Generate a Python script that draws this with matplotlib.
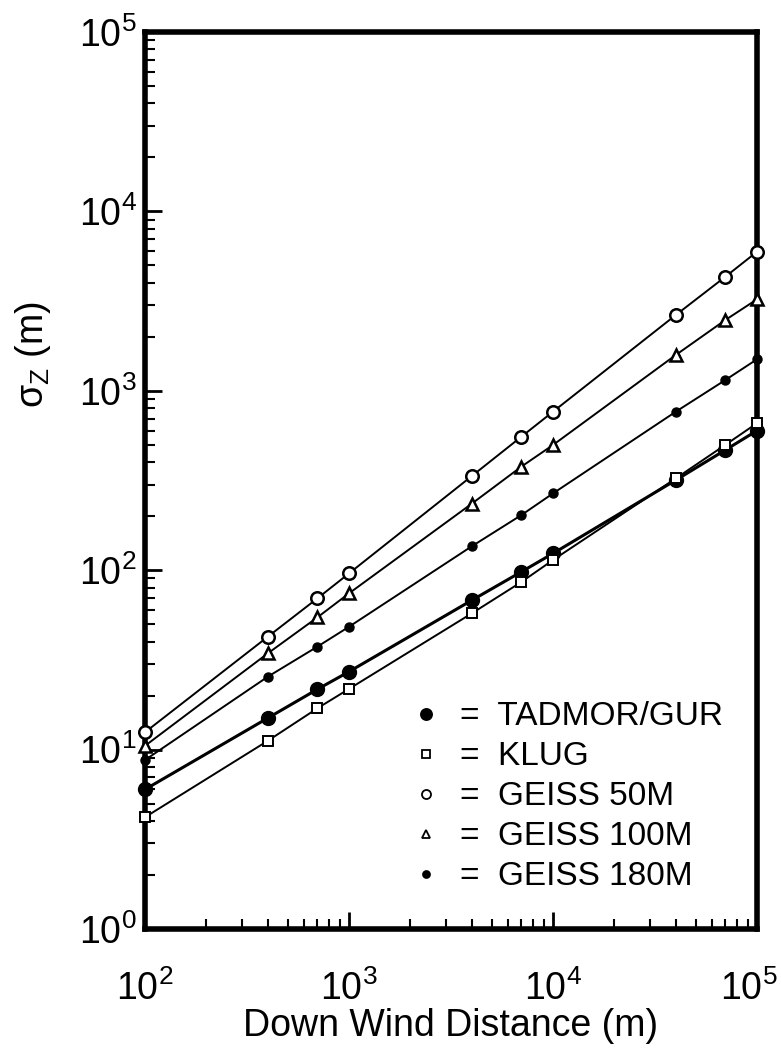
# Lateral dispersion sigma_z vs down-wind distance (log-log)
import matplotlib
matplotlib.use("Agg")
import matplotlib.pyplot as plt
import matplotlib.transforms as mtransforms
from matplotlib.lines import Line2D
from matplotlib.ticker import LogLocator, NullFormatter

plt.rcParams["font.family"] = ["Liberation Sans", "DejaVu Sans"]
plt.rcParams["mathtext.fontset"] = "custom"
plt.rcParams["mathtext.rm"] = "Liberation Sans"
plt.rcParams["mathtext.it"] = "Liberation Sans"
plt.rcParams["mathtext.bf"] = "Liberation Sans:bold"

# ---- data ----
distance = [100, 400, 700, 1000, 4000, 7000, 10000, 40000, 70000, 100000]
tadmor_gur = [6.0, 15.0, 21.7, 27.2, 68, 98, 124, 318, 468, 600]
klug = [4.2, 11.2, 17.0, 21.8, 57.5, 86, 114, 325, 500, 660]
geiss_50 = [12.5, 42.6, 69.7, 96, 335, 555, 765, 2646, 4325, 5960]
geiss_100 = [10.5, 34.4, 54.6, 74.3, 235, 378, 499, 1584, 2482, 3236]
geiss_180 = [8.75, 25.5, 37.5, 48.4, 136, 203, 268, 765, 1149, 1499]

labels = ["TADMOR/GUR", "KLUG", "GEISS 50M", "GEISS 100M", "GEISS 180M"]

fig = plt.figure(figsize=(7.81, 10.52), dpi=100)
ax = fig.add_axes([0.1857, 0.1169, 0.7836, 0.8527])

# ---- series ----
styles = [
    dict(marker="o", ms=10, mfc="black", mec="black", lw=2.2),
    dict(marker="s", ms=7, mfc="white", mec="black", mew=1.4, lw=1.4),
    dict(marker="o", ms=9, mfc="white", mec="black", mew=1.8, lw=1.4),
    dict(marker="^", ms=8, mfc="white", mec="black", mew=1.8, lw=1.4),
    dict(marker="o", ms=6.5, mfc="black", mec="black", lw=1.4),
]
series = [tadmor_gur, klug, geiss_50, geiss_100, geiss_180]
for vals, st in zip(series, styles):
    ax.plot(distance, vals, color="black", clip_on=False, zorder=3, **st)

ax.set_xscale("log")
ax.set_yscale("log")
ax.set_xlim(100, 100000)
ax.set_ylim(1, 100000)

# ---- axis frame and ticks ----
for side in ("left", "right", "top", "bottom"):
    ax.spines[side].set_linewidth(4)

ax.xaxis.set_major_locator(LogLocator(base=10, numticks=10))
ax.yaxis.set_major_locator(LogLocator(base=10, numticks=10))
ax.xaxis.set_minor_locator(LogLocator(base=10, subs=range(2, 10), numticks=20))
ax.yaxis.set_minor_locator(LogLocator(base=10, subs=range(2, 10), numticks=20))
ax.xaxis.set_minor_formatter(NullFormatter())
ax.yaxis.set_minor_formatter(NullFormatter())

ax.tick_params(axis="both", which="major", direction="in", length=12, width=2,
               labelsize=27, top=False, right=False)
ax.tick_params(axis="both", which="minor", direction="in", length=7, width=1.5,
               top=False, right=False)
ax.tick_params(axis="x", which="major", pad=30)
ax.tick_params(axis="y", which="major", pad=6)

ax.set_xlabel("Down Wind Distance (m)", fontsize=27, labelpad=0)
ax.set_ylabel(r"$\sigma_Z$ (m)", fontsize=27)
ax.yaxis.set_label_coords(-0.15, 0.64)

# ---- legend ----
handles = []
leg_sizes = [8, 6, 6.5, 6, 5]
for st, ms in zip(styles, leg_sizes):
    h = Line2D([], [], color="black", linestyle="none", marker=st["marker"], ms=ms,
               mfc=st["mfc"], mec=st["mec"], mew=1.3)
    handles.append(h)
ax.legend(handles, ["=  " + s for s in labels], loc="upper left",
          bbox_to_anchor=(0.40, 0.28), frameon=False, fontsize=24,
          handlelength=0.8, handletextpad=0.6, labelspacing=0.27,
          borderpad=0.2)

# nudge the last x tick label so it stays inside the figure
fig.canvas.draw()
last = ax.xaxis.get_major_ticks()[-1].label1
for t in ax.xaxis.get_major_ticks():
    if abs(t.get_loc() - 100000) < 1:
        last = t.label1
last.set_transform(last.get_transform()
                   + mtransforms.ScaledTranslation(-6 / 72, 0, fig.dpi_scale_trans))

fig.savefig("out.png", dpi=100)
